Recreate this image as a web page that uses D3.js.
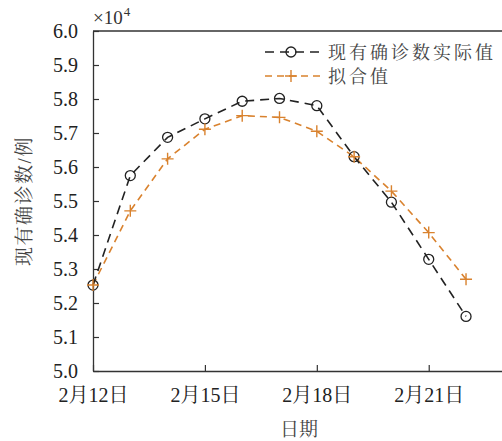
<!DOCTYPE html>
<html>
<head>
<meta charset="utf-8">
<script src="https://cdn.jsdelivr.net/npm/d3@7"></script>
<style>
  html, body { margin: 0; padding: 0; background: #fff; }
  svg { display: block; }
</style>
</head>
<body>
<svg id="chart" width="502" height="441"></svg>
<script>
// Days (February) and values in units of 10^4 cases
const days = [12, 13, 14, 15, 16, 17, 18, 19, 20, 21, 22];
const actual = [5.2526, 5.5748, 5.6873, 5.7416, 5.7934, 5.8016, 5.7805, 5.6303, 5.4965, 5.3284, 5.1606];
const fitted = [5.253, 5.471, 5.624, 5.711, 5.751, 5.746, 5.705, 5.630, 5.529, 5.407, 5.270];
const xTickDays = [12, 15, 18, 21];
const yTicks = [5.0, 5.1, 5.2, 5.3, 5.4, 5.5, 5.6, 5.7, 5.8, 5.9, 6.0];
const seriesNames = ["现有确诊数实际值", "拟合值"];

const W = 502, H = 441;
const m = { left: 93, right: 0, top: 31, bottom: 70 };
const svg = d3.select("#chart");

const LATIN = "Liberation Serif";
const HAN = "Noto Serif CJK SC";

// Write a string into a text node as runs: Latin/digits in a Times-like face, Han in a Song-like face
function mixed(sel, str) {
  sel.text(null);
  const runs = str.match(/[\u3000-\u9fff\uff00-\uffef]+|[^\u3000-\u9fff\uff00-\uffef]+/g) || [];
  runs.forEach(r => {
    const han = /[\u3000-\u9fff\uff00-\uffef]/.test(r);
    sel.append("tspan").attr("font-family", han ? HAN : LATIN).text(r);
  });
}

const x = d3.scaleLinear().domain([12, 22 + (502 - 466) / 37.33]).range([m.left, W - m.right]);
const y = d3.scaleLinear().domain([5.0, 6.0]).range([H - m.bottom, m.top]);

const axisColor = "#333";

// Top frame line
svg.append("line")
  .attr("x1", m.left).attr("x2", W).attr("y1", y(6.0)).attr("y2", y(6.0))
  .attr("stroke", axisColor).attr("stroke-width", 1.3);

// Y axis with inward ticks
const yAxis = svg.append("g").attr("transform", `translate(${m.left},0)`)
  .call(d3.axisLeft(y).tickValues(yTicks).tickFormat(d3.format(".1f")).tickSizeInner(-6).tickSizeOuter(0).tickPadding(15));
yAxis.select(".domain").attr("stroke", axisColor).attr("stroke-width", 1.3);
yAxis.selectAll(".tick line").attr("stroke", axisColor).attr("stroke-width", 1.2);
yAxis.selectAll(".tick text").attr("font-family", LATIN).attr("font-size", 20).attr("fill", "#222");

// X axis with inward ticks
const xAxis = svg.append("g").attr("transform", `translate(0,${y(5.0)})`)
  .call(d3.axisBottom(x).tickValues(xTickDays).tickFormat(d => `2月${d}日`).tickSizeInner(-6).tickSizeOuter(0).tickPadding(17));
xAxis.select(".domain").attr("stroke", axisColor).attr("stroke-width", 1.3);
xAxis.selectAll(".tick line").attr("stroke", axisColor).attr("stroke-width", 1.2);
xAxis.selectAll(".tick text").attr("font-size", 20).attr("fill", "#222")
  .each(function (d) { mixed(d3.select(this), `2月${d}日`); });

// Exponent label
const expo = svg.append("text").attr("x", m.left).attr("y", 24)
  .attr("font-family", LATIN).attr("font-size", 19).attr("fill", "#333");
expo.append("tspan").text("×10");
expo.append("tspan").attr("font-size", 13).attr("dx", 1).attr("dy", -8).text("4");

// Axis titles
const xt = svg.append("text").attr("x", 299).attr("y", 436).attr("text-anchor", "middle")
  .attr("font-size", 19).attr("fill", "#444");
mixed(xt, "日期");
const yt = svg.append("text").attr("transform", `translate(31,${(y(5) + y(6)) / 2}) rotate(-90)`)
  .attr("text-anchor", "middle").attr("font-size", 19).attr("letter-spacing", 1.5).attr("fill", "#444");
mixed(yt, "现有确诊数/例");

const line = d3.line().x((d, i) => x(days[i])).y(d => y(d));
const black = "#222";
const orange = "#d9822e";

// Fitted series
svg.append("path").datum(fitted).attr("d", line)
  .attr("fill", "none").attr("stroke", orange).attr("stroke-width", 1.6).attr("stroke-dasharray", "7,5");
// Actual series
svg.append("path").datum(actual).attr("d", line)
  .attr("fill", "none").attr("stroke", black).attr("stroke-width", 1.6).attr("stroke-dasharray", "9,6");

function plus(g, cx, cy, s, color) {
  g.append("path").attr("d", `M${cx - s},${cy}H${cx + s}M${cx},${cy - s}V${cy + s}`)
    .attr("stroke", color).attr("stroke-width", 1.4).attr("fill", "none");
}
function circle(g, cx, cy, r, color) {
  g.append("circle").attr("cx", cx).attr("cy", cy).attr("r", r)
    .attr("fill", "none").attr("stroke", color).attr("stroke-width", 1.3);
}

const mk = svg.append("g");
actual.forEach((v, i) => circle(mk, x(days[i]), y(v), 5, black));
fitted.forEach((v, i) => plus(mk, x(days[i]), y(v), 6, orange));

// Legend
const lg = svg.append("g");
const rows = [{ y: 52, color: black, dash: "9,6", marker: "circle" }, { y: 76, color: orange, dash: "7,5", marker: "plus" }];
rows.forEach((r, i) => {
  lg.append("line").attr("x1", 265).attr("x2", 320).attr("y1", r.y).attr("y2", r.y)
    .attr("stroke", r.color).attr("stroke-width", 1.6).attr("stroke-dasharray", r.dash);
  if (r.marker === "circle") circle(lg, 291, r.y, 5, r.color); else plus(lg, 291, r.y, 6, r.color);
  const t = lg.append("text").attr("x", 328).attr("y", r.y + 6.5).attr("font-size", 18)
    .attr("letter-spacing", 3).attr("fill", "#444");
  mixed(t, seriesNames[i]);
});
</script>
</body>
</html>
